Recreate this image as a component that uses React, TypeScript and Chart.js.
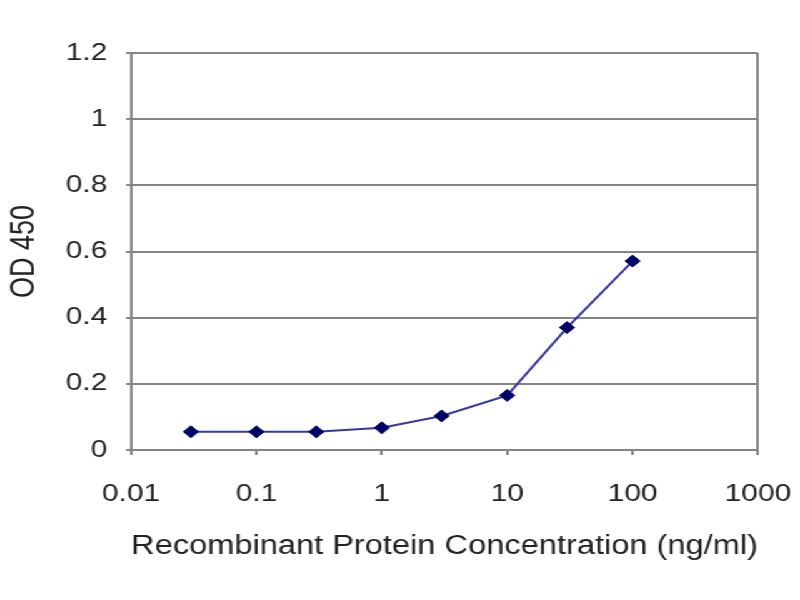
import React, { useEffect, useRef } from "react";
import { Chart, registerables } from "chart.js";

Chart.register(...registerables);

const concentrations = [0.03, 0.1, 0.3, 1, 3, 10, 30, 100];
const odValues = [0.055, 0.055, 0.055, 0.067, 0.103, 0.165, 0.37, 0.571];
const xTickValues = [0.01, 0.1, 1, 10, 100, 1000];
const yTickValues = [0, 0.2, 0.4, 0.6, 0.8, 1, 1.2];
const xTitle = "Recombinant Protein Concentration (ng/ml)";
const yTitle = "OD 450";

const STRETCH = 1.25;
const W = 800 / STRETCH;
const H = 600;
const FONT = "'Liberation Sans', Arial, sans-serif";
const GRID = "#858585";

export default function App() {
  const ref = useRef<HTMLCanvasElement>(null);

  useEffect(() => {
    if (!ref.current) return;
    const chart = new Chart(ref.current, {
      type: "scatter",
      data: {
        datasets: [
          {
            data: concentrations.map((c, i) => ({ x: c, y: odValues[i] })),
            showLine: true,
            borderColor: "#3838a0",
            borderWidth: 2,
            backgroundColor: "#000066",
            pointBackgroundColor: "#000066",
            pointBorderColor: "#000066",
            pointStyle: "rectRot",
            pointRadius: 6,
            pointBorderWidth: 1,
            tension: 0,
          },
        ],
      },
      options: {
        animation: false,
        responsive: false,
        devicePixelRatio: 1,
        layout: { padding: { top: 53, right: W - 758 / STRETCH, left: 0, bottom: 0 } },
        plugins: { legend: { display: false }, tooltip: { enabled: false } },
        scales: {
          x: {
            type: "logarithmic",
            min: 0.01,
            max: 1000,
            afterBuildTicks: (s: any) => {
              s.ticks = xTickValues.map((v) => ({ value: v }));
            },
            afterFit: (s: any) => {
              s.height = H - 450;
              s.paddingLeft = 0;
              s.paddingRight = 0;
            },
            ticks: {
              autoSkip: false,
              maxRotation: 0,
              padding: 25,
              color: "#222",
              font: { family: FONT, size: 24 },
              callback: (v: any) => String(v),
            },
            grid: {
              drawOnChartArea: true,
              color: (c: any) => (c.tick && c.tick.value === 1000 ? GRID : "rgba(0,0,0,0)"),
              tickColor: GRID,
              tickLength: 5,
              lineWidth: 2,
            },
            border: { display: true, color: GRID, width: 2 },
            title: {
              display: true,
              text: xTitle,
              color: "#222",
              font: { family: FONT, size: 27 },
              padding: { top: 0, bottom: 37 },
            },
          },
          y: {
            type: "linear",
            min: 0,
            max: 1.2,
            afterBuildTicks: (s: any) => {
              s.ticks = yTickValues.map((v) => ({ value: v }));
            },
            afterFit: (s: any) => {
              s.width = 131 / STRETCH;
              s.paddingTop = 0;
              s.paddingBottom = 0;
            },
            ticks: {
              padding: 15,
              color: "#222",
              font: { family: FONT, size: 24 },
              callback: (v: any) => String(Number(Number(v).toFixed(1))),
            },
            grid: {
              color: GRID,
              tickColor: GRID,
              tickLength: 4,
              lineWidth: 2,
            },
            border: { display: true, color: GRID, width: 2 },
            title: {
              display: true,
              text: yTitle,
              color: "#222",
              font: { family: FONT, size: 27 },
              padding: { top: 3, bottom: 0 },
            },
          },
        },
      },
    });
    return () => chart.destroy();
  }, []);

  return (
    <div
      style={{
        position: "fixed",
        left: 0,
        top: 0,
        width: W,
        height: H,
        background: "#fff",
        transform: `scaleX(${STRETCH})`,
        transformOrigin: "0 0",
      }}
    >
      <canvas ref={ref} width={W} height={H} />
    </div>
  );
}
